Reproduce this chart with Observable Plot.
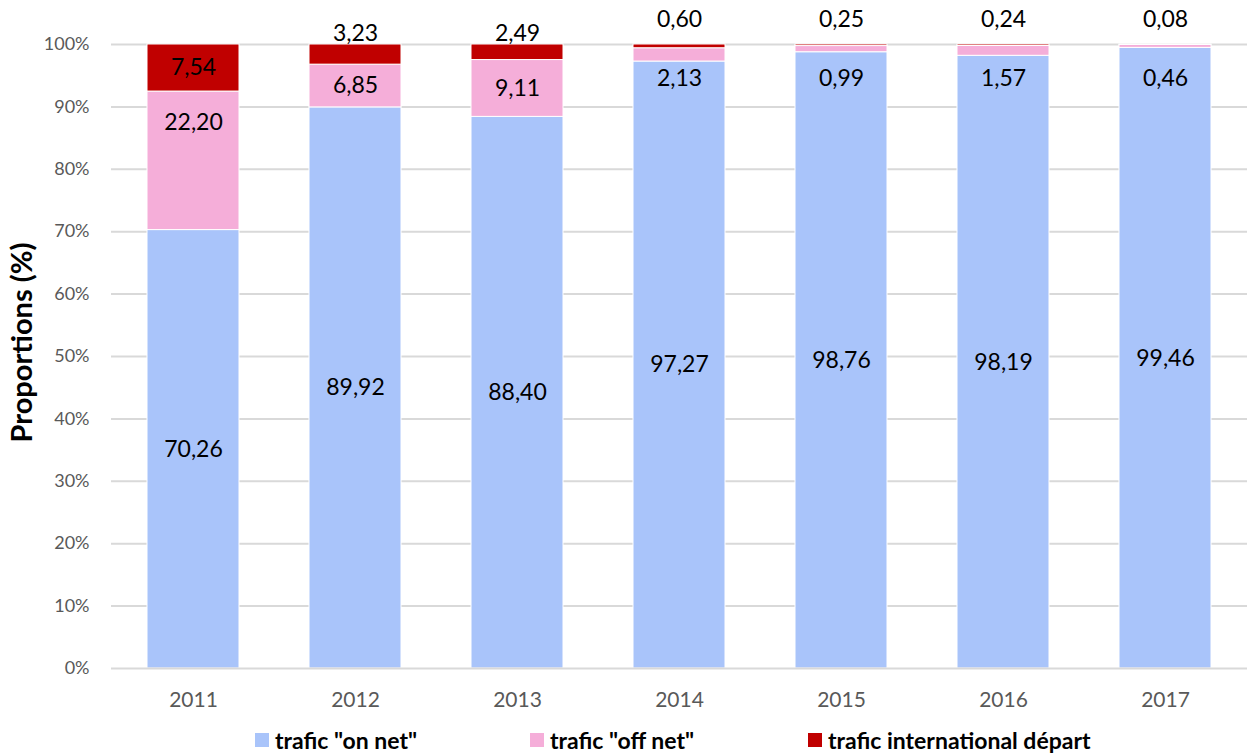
<!DOCTYPE html>
<html>
<head>
<meta charset="utf-8">
<script src="https://cdn.jsdelivr.net/npm/d3@7"></script>
<script src="https://cdn.jsdelivr.net/npm/@observablehq/plot@0.6"></script>
<style>
  body { margin: 0; background: #fff; font-family: Lato, "Open Sans", sans-serif; }
  #chart { width: 1247px; }
  #chart svg { display: block; }
  #legend { position: relative; width: 1247px; height: 39px; font-weight: bold; font-size: 23px; color: #000; }
  #legend .item { position: absolute; top: 12px; height: 26px; display: flex; align-items: center; white-space: nowrap; line-height: 26px; }
  #legend .sw { display: inline-block; width: 14px; height: 14px; margin-right: 6px; }
</style>
</head>
<body>
<div id="chart"></div>
<div id="legend"></div>
<script>
const years = ["2011", "2012", "2013", "2014", "2015", "2016", "2017"];
const seriesNames = ['trafic "on net"', 'trafic "off net"', "trafic international départ"];
const onNet = [70.26, 89.92, 88.40, 97.27, 98.76, 98.19, 99.46];
const offNet = [22.20, 6.85, 9.11, 2.13, 0.99, 1.57, 0.46];
const intl = [7.54, 3.23, 2.49, 0.60, 0.25, 0.24, 0.08];
const colors = ["#A9C4FA", "#F5AED9", "#C00000"];

const seriesValues = [onNet, offNet, intl];
const data = [];
seriesNames.forEach((s, si) => years.forEach((y, i) => data.push({year: y, series: s, value: seriesValues[si][i]})));

const fmt = v => v.toFixed(2).replace(".", ",");
const labels = [];
years.forEach((y, i) => {
  const a = onNet[i], b = offNet[i], c = intl[i];
  labels.push({year: y, pos: a / 2, text: fmt(a)});
  const top = a + b;
  labels.push({year: y, pos: b < 5 ? 94.5 : top - Math.min(b / 2, 5), text: fmt(b)});
  labels.push({year: y, pos: c > 5 ? top + c / 2 : (c > 2 ? 101.8 : 104), text: fmt(c)});
});

const chart = Plot.plot({
  width: 1247,
  height: 715,
  marginTop: 44,
  marginBottom: 47,
  marginLeft: 111,
  marginRight: 0,
  style: {fontFamily: "Lato, 'Open Sans', sans-serif", fontSize: "18px", color: "#595959", overflow: "visible"},
  x: {domain: years, paddingInner: 0.434, paddingOuter: 0.217, label: null},
  y: {domain: [0, 100], label: null},
  color: {domain: seriesNames, range: colors},
  marks: [
    Plot.gridY(d3.range(10, 101, 10), {stroke: "#d9d9d9", strokeOpacity: 1, strokeWidth: 2}),
    Plot.barY(data, {x: "year", y: "value", fill: "series", order: seriesNames, stroke: "#fff", strokeWidth: 1}),
    Plot.ruleY([0], {stroke: "#d9d9d9", strokeWidth: 2}),
    Plot.axisY({ticks: d3.range(0, 101, 10), tickFormat: d => d + "%", tickSize: 0, tickPadding: 22, fill: "#595959", fontSize: 18, label: null}),
    Plot.axisX({tickSize: 0, tickPadding: 24, fill: "#595959", fontSize: 21, label: null}),
    Plot.text(labels, {x: "year", y: "pos", text: "text", fill: "#000", fontSize: 23}),
    Plot.text(["Proportions (%)"], {frameAnchor: "left", textAnchor: "middle", dx: -89, dy: -14, rotate: -90, fontWeight: "bold", fontSize: 29, fill: "#000"})
  ]
});
document.getElementById("chart").appendChild(chart);

const legend = document.getElementById("legend");
const lx = [255, 530, 808];
seriesNames.forEach((s, i) => {
  const it = document.createElement("div");
  it.className = "item";
  it.style.left = lx[i] + "px";
  const sw = document.createElement("span");
  sw.className = "sw";
  sw.style.background = colors[i];
  const t = document.createElement("span");
  t.textContent = s;
  it.appendChild(sw); it.appendChild(t);
  legend.appendChild(it);
});
</script>
</body>
</html>
